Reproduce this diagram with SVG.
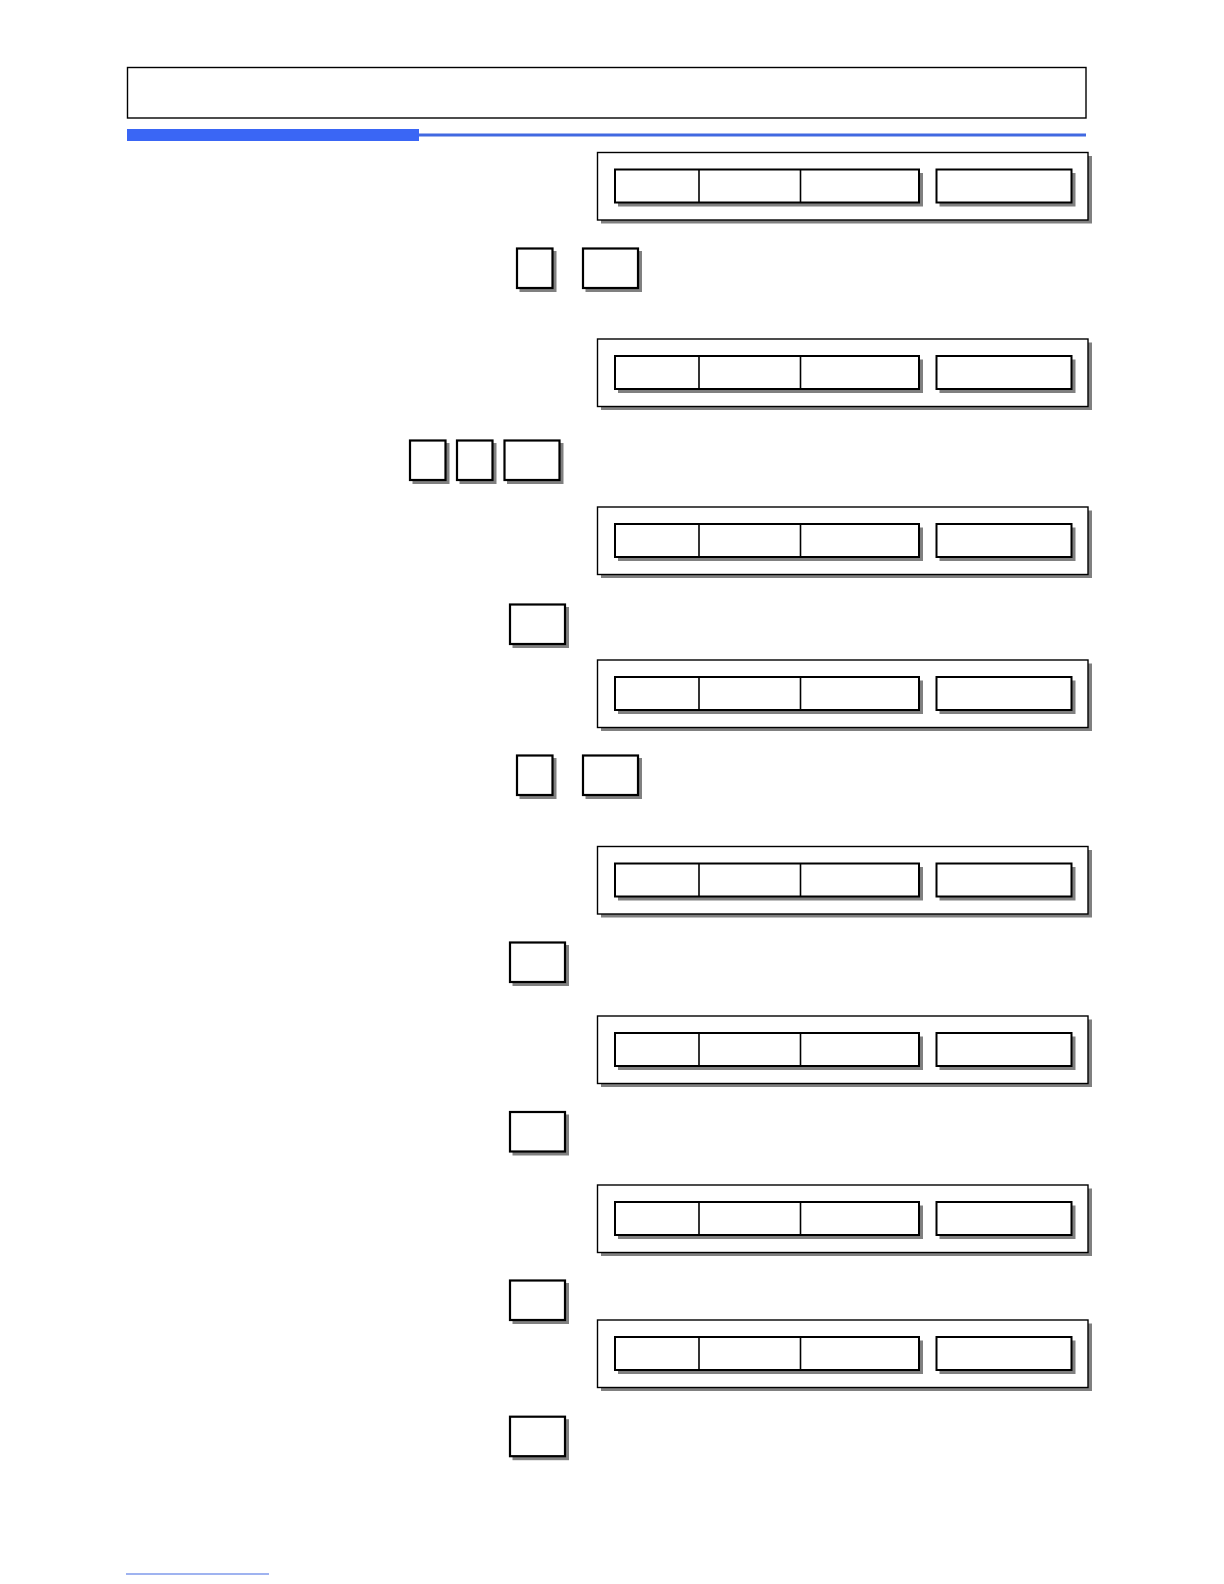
<svg xmlns="http://www.w3.org/2000/svg" xmlns:xlink="http://www.w3.org/1999/xlink" width="1224" height="1584" viewBox="0 0 1224 1584">
<style>
.sh{fill:#808080;stroke:none}
.ob{fill:#fff;stroke:#000;stroke-width:1.4}
.ib{fill:#fff;stroke:#000;stroke-width:2}
.dv{stroke:#000;stroke-width:1.6}
.kb{fill:#fff;stroke:#000;stroke-width:2.2}
</style>
<defs>
<g id="rowTpl">
<rect class="sh" x="601" y="3.5" width="491" height="67.5"/>
<rect class="ob" x="597.5" y="0" width="490.5" height="67.5"/>
<rect class="sh" x="618" y="20.5" width="305" height="33.5"/>
<rect class="ib" x="615" y="17" width="304" height="33"/>
<line class="dv" x1="699" y1="17" x2="699" y2="50"/>
<line class="dv" x1="800.5" y1="17" x2="800.5" y2="50"/>
<rect class="sh" x="939.5" y="20.5" width="136" height="33.5"/>
<rect class="ib" x="936.5" y="17" width="135" height="33"/>
</g>
<g id="sqTpl">
<rect class="sh" x="3.5" y="3.5" width="37" height="41"/>
<rect class="kb" x="1" y="1" width="35.5" height="39.5"/>
</g>
<g id="wdTpl">
<rect class="sh" x="3.5" y="3.5" width="56.5" height="41"/>
<rect class="kb" x="1" y="1" width="55" height="39.5"/>
</g>
</defs>

<g id="header">
<rect x="127.5" y="67.5" width="958.5" height="50.5" fill="#fff" stroke="#000" stroke-width="1.4"/>
<rect x="127" y="129" width="292" height="12" fill="#3a66f5"/>
<rect x="419" y="133.5" width="667" height="3" fill="#4169e1"/>
</g>

<g id="row1" transform="translate(0,152.5)"><use xlink:href="#rowTpl"/></g>
<g id="keys1">
<use xlink:href="#sqTpl" transform="translate(516,247.5)"/>
<use xlink:href="#wdTpl" transform="translate(582,247.5)"/>
</g>
<g id="row2" transform="translate(0,339)"><use xlink:href="#rowTpl"/></g>
<g id="keys2">
<use xlink:href="#sqTpl" transform="translate(409,439.5)"/>
<use xlink:href="#sqTpl" transform="translate(456,439.5)"/>
<use xlink:href="#wdTpl" transform="translate(503.5,439.5)"/>
</g>
<g id="row3" transform="translate(0,507)"><use xlink:href="#rowTpl"/></g>
<g id="keys3"><use xlink:href="#wdTpl" transform="translate(509,603.5)"/></g>
<g id="row4" transform="translate(0,660)"><use xlink:href="#rowTpl"/></g>
<g id="keys4">
<use xlink:href="#sqTpl" transform="translate(516,754.5)"/>
<use xlink:href="#wdTpl" transform="translate(582,754.5)"/>
</g>
<g id="row5" transform="translate(0,846.5)"><use xlink:href="#rowTpl"/></g>
<g id="keys5"><use xlink:href="#wdTpl" transform="translate(509,941.5)"/></g>
<g id="row6" transform="translate(0,1016)"><use xlink:href="#rowTpl"/></g>
<g id="keys6"><use xlink:href="#wdTpl" transform="translate(509,1111)"/></g>
<g id="row7" transform="translate(0,1185)"><use xlink:href="#rowTpl"/></g>
<g id="keys7"><use xlink:href="#wdTpl" transform="translate(509,1279.5)"/></g>
<g id="row8" transform="translate(0,1320)"><use xlink:href="#rowTpl"/></g>
<g id="keys8"><use xlink:href="#wdTpl" transform="translate(509,1415.7)"/></g>

<g id="footer">
<rect x="126" y="1573.5" width="143" height="1" fill="#4169e1"/>
</g>
<g id="connectors"/>
</svg>
